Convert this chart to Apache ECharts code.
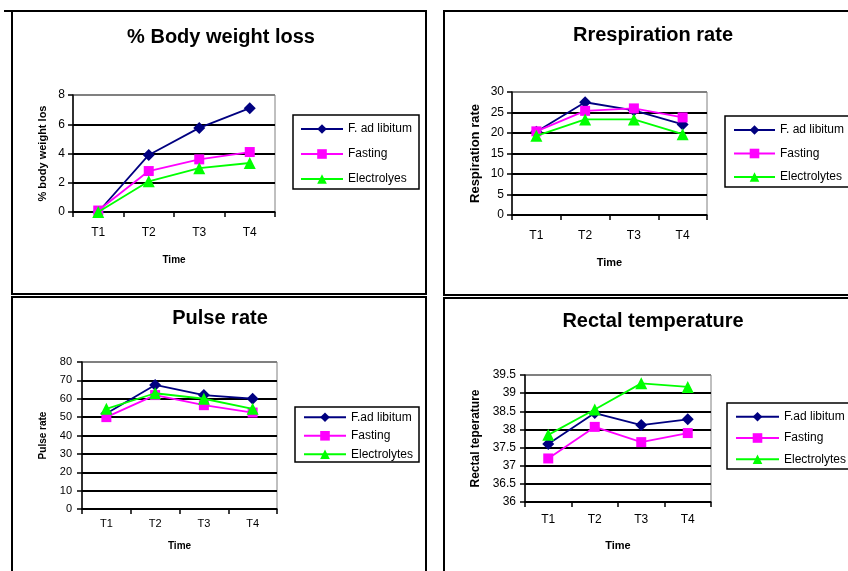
<!DOCTYPE html>
<html><head><meta charset="utf-8">
<script src="https://cdn.jsdelivr.net/npm/echarts@6/dist/echarts.min.js"></script>
<style>html,body{margin:0;padding:0;background:#fff}#c{width:848px;height:571px}</style>
</head><body><div id="c"></div>
<script>
const categories = ['T1','T2','T3','T4'];
// % Body weight loss
const bwlFad = [0, 3.9, 5.75, 7.1];
const bwlFast = [0.1, 2.8, 3.6, 4.1];
const bwlElec = [0, 2.1, 3.0, 3.35];
// Respiration rate
const respFad = [20.3, 27.5, 25.5, 22.1];
const respFast = [20.4, 25.4, 26.0, 23.8];
const respElec = [19.3, 23.3, 23.3, 19.7];
// Pulse rate
const pulseFad = [52, 67.5, 62, 60];
const pulseFast = [50, 62, 56.5, 52.5];
const pulseElec = [54.5, 63, 60, 54.5];
// Rectal temperature
const rectFad = [37.6, 38.45, 38.12, 38.28];
const rectFast = [37.2, 38.07, 37.65, 37.9];
const rectElec = [37.85, 38.55, 39.27, 39.17];

const panelTitles = ['% Body weight loss', 'Rrespiration rate', 'Pulse rate', 'Rectal temperature'];
const yNames = ['% body weight los', 'Respiration rate', 'Pulse rate', 'Rectal teperature'];
const legendNames = [
  ['F. ad libitum', 'Fasting', 'Electrolyes'],
  ['F. ad libitum', 'Fasting', 'Electrolytes'],
  ['F.ad libitum', 'Fasting', 'Electrolytes'],
  ['F.ad libitum', 'Fasting', 'Electrolytes']
];
const panelData = [
  [bwlFad, bwlFast, bwlElec],
  [respFad, respFast, respElec],
  [pulseFad, pulseFast, pulseElec],
  [rectFad, rectFast, rectElec]
];
const yRange = [[0, 8, 2], [0, 30, 5], [0, 80, 10], [36, 39.5, 0.5]];

const FONT = 'Liberation Sans, Arial, sans-serif';
const colors = ['#000080', '#FF00FF', '#00FF00'];
const symbols = ['diamond', 'rect', 'triangle'];
const symSizes = [12, 10, 12];

// layout per panel
const L = [
  {grid:{left:73, top:95, width:202, height:117}, title:[221,37], labFs:12, labMargin:15, yLabMargin:8, timeFs:10, timeGap:43, yNameFs:11, yNameGap:25,
   legend:{left:300, top:123, itemWidth:42, itemGap:13}, box:[293,115,126,74]},
  {grid:{left:512, top:92, width:195, height:123}, title:[653,35], labFs:12, labMargin:15, yLabMargin:8, timeFs:11, timeGap:42, yNameFs:13, yNameGap:30,
   legend:{left:733, top:124, itemWidth:41, itemGap:11.5}, box:[725,116,140,71]},
  {grid:{left:82, top:362, width:195, height:147}, title:[220,318], labFs:11, labMargin:9, yLabMargin:10, timeFs:10, timeGap:32, yNameFs:10, yNameGap:34,
   legend:{left:303, top:411.3, itemWidth:42, itemGap:6.5}, box:[295,407,124,55]},
  {grid:{left:525, top:375, width:186, height:127}, title:[653,321], labFs:12, labMargin:12, yLabMargin:9, timeFs:11, timeGap:38, yNameFs:12, yNameGap:43,
   legend:{left:735, top:410.7, itemWidth:43, itemGap:9.3}, box:[727,403,140,66]}
];

const grid = [], xAxis = [], yAxis = [], series = [], title = [], legend = [], graphic = [];
L.forEach((p, i) => {
  grid.push(Object.assign({show:true, borderColor:'#808080', borderWidth:1, backgroundColor:'#fff'}, p.grid));
  title.push({text: panelTitles[i], left: p.title[0], top: p.title[1], textAlign:'center', textVerticalAlign:'middle', padding:0,
    textStyle:{fontFamily:FONT, fontWeight:'bold', fontSize:20, color:'#000'}});
  xAxis.push({type:'category', gridIndex:i, data:categories, boundaryGap:true,
    axisLine:{lineStyle:{color:'#000', width:1.5}},
    axisTick:{show:true, length:5, lineStyle:{color:'#000', width:1.5}},
    axisLabel:{fontFamily:FONT, fontSize:p.labFs, color:'#000', margin:p.labMargin},
    name:'Time', nameLocation:'middle', nameGap:p.timeGap,
    nameTextStyle:{fontFamily:FONT, fontWeight:'bold', fontSize:p.timeFs, color:'#000'}});
  const [mn, mx, iv] = yRange[i];
  const n = Math.round((mx - mn) / iv) + 1;
  const lc = []; for (let k = 0; k < n; k++) lc.push(k === n - 1 ? '#808080' : '#000');
  yAxis.push({type:'value', gridIndex:i, min:mn, max:mx, interval:iv,
    axisLine:{show:true, lineStyle:{color:'#000', width:1.5}},
    axisTick:{show:true, length:5, lineStyle:{color:'#000', width:1.5}},
    axisLabel:{fontFamily:FONT, fontSize:p.labFs, color:'#000', margin:p.yLabMargin},
    splitLine:{show:true, lineStyle:{color:lc, width:1.8}},
    name:yNames[i], nameLocation:'middle', nameGap:p.yNameGap,
    nameTextStyle:{fontFamily:FONT, fontWeight:'bold', fontSize:p.yNameFs, color:'#000'}});
  panelData[i].forEach((d, s) => {
    series.push({type:'line', name:legendNames[i][s], xAxisIndex:i, yAxisIndex:i, data:d,
      symbol:symbols[s], symbolSize:symSizes[s], showSymbol:true,
      lineStyle:{color:colors[s], width:1.8}, itemStyle:{color:colors[s]},
      animation:false, z:3+s});
  });
  legend.push({data:legendNames[i], orient:'vertical', left:p.legend.left, top:p.legend.top, padding:0,
    itemWidth:p.legend.itemWidth, itemHeight:12, itemGap:p.legend.itemGap, selectedMode:false,
    textStyle:{fontFamily:FONT, fontSize:12, color:'#000'}});
  graphic.push({type:'rect', shape:{x:p.box[0], y:p.box[1], width:p.box[2], height:p.box[3]},
    style:{fill:'none', stroke:'#000', lineWidth:1.5}, z:1});
});
// panel frames
[[12,11,414,283],[444,11,420,284],[12,297,414,290],[444,298,420,290]].forEach(r => {
  graphic.push({type:'rect', shape:{x:r[0], y:r[1], width:r[2], height:r[3]}, style:{fill:'none', stroke:'#000', lineWidth:2}, z:0});
});
graphic.push({type:'rect', shape:{x:4, y:10, width:8, height:2}, style:{fill:'#000'}});

const chart = echarts.init(document.getElementById('c'), null, {renderer:'canvas'});
chart.setOption({animation:false, backgroundColor:'#fff', title, grid, xAxis, yAxis, series, legend, graphic});
</script></body></html>
